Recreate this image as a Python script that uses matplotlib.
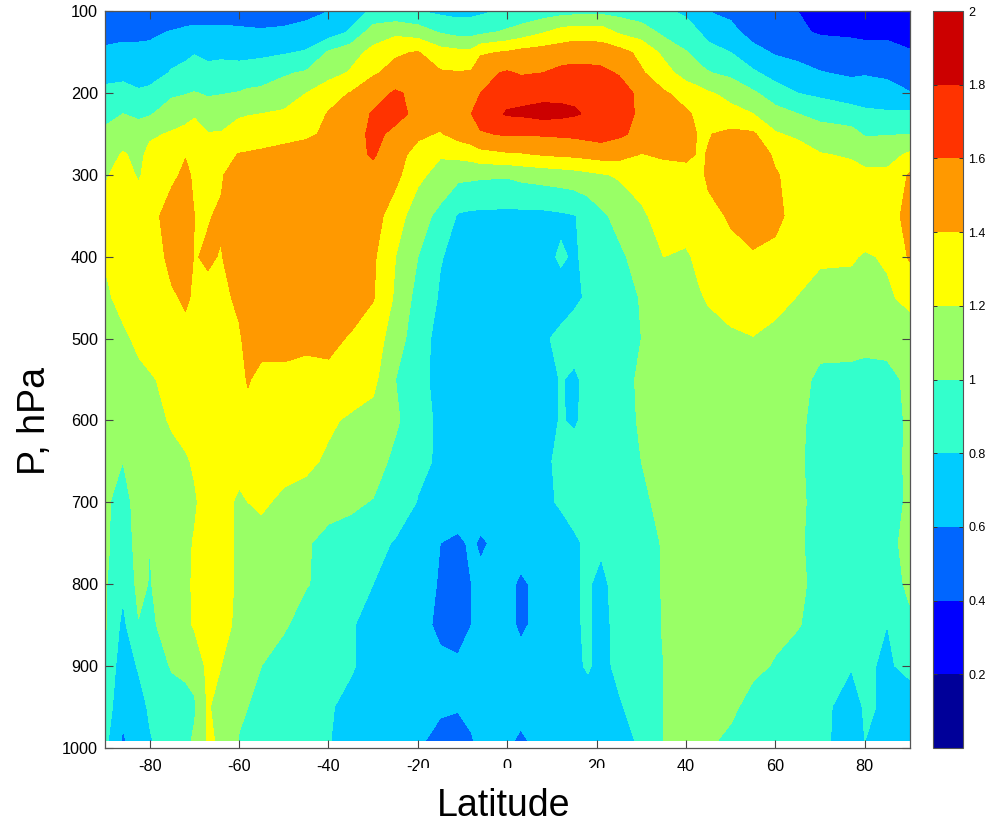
import matplotlib
matplotlib.use('Agg')
import matplotlib.pyplot as plt
from matplotlib.patches import Rectangle
import numpy as np

plt.rcParams['font.family'] = ['Liberation Sans', 'DejaVu Sans']
plt.rcParams['axes.unicode_minus'] = False

lat = [-90, -86, -82.5, -80, -75, -72, -70, -67, -64, -60, -58, -55, -50, -45, -40, -35, -30, -25, -20, -15, -11, -8, -6,
       0, 3, 8, 12, 15, 18, 21, 25, 30, 35, 40, 43, 45, 50, 55, 60, 65, 70, 77, 80, 85, 90]
plev = [100, 125, 150, 175, 200, 225, 250, 275, 300, 350, 400, 450, 500, 550, 600, 650, 700, 750, 800, 850, 900, 950, 992]

p100 = [.45, .47, .47, .48, .48, .48, .48, .48, .48, .49, .49, .5, .52, .55, .6, .72, .83, .85, .81, .76, .74, .75, .77,
        .83, .86, .9, .93, .94, .95, .95, .93, .88, .83, .77, .68, .6, .56, .5, .46, .4, .36, .34, .33, .33, .33]
p125 = [.5, .55, .56, .57, .61, .64, .66, .66, .66, .64, .63, .62, .63, .66, .7, .82, 1.1, 1.15, 1.1, .98, .93, .93, .95,
        1.03, 1.08, 1.18, 1.27, 1.3, 1.3, 1.3, 1.17, 1.1, .95, .88, .8, .72, .65, .53, .48, .43, .38, .37, .35, .35, .3]
p150 = [.65, .65, .64, .64, .72, .76, .79, .75, .76, .74, .74, .75, .78, .82, 1.02, 1.13, 1.25, 1.38, 1.41, 1.28, 1.25, 1.25, 1.37,
        1.42, 1.46, 1.49, 1.5, 1.52, 1.51, 1.5, 1.47, 1.35, 1.15, 1.01, .93, .88, .8, .66, .58, .55, .5, .47, .47, .47, .42]
p175 = [.72, .72, .7, .7, .82, .85, .87, .86, .87, .88, .9, .92, .98, 1.02, 1.12, 1.22, 1.38, 1.45, 1.47, 1.42, 1.41, 1.42, 1.55,
        1.62, 1.58, 1.6, 1.65, 1.66, 1.66, 1.65, 1.58, 1.42, 1.29, 1.1, 1.05, 1.01, .95, .83, .72, .66, .61, .57, .58, .55, .5]
p200 = [.86, .9, .83, .86, .97, .99, 1.01, .98, .99, 1.01, 1.03, 1.04, 1.08, 1.2, 1.33, 1.41, 1.5, 1.63, 1.54, 1.5, 1.52, 1.55, 1.6,
        1.72, 1.74, 1.74, 1.75, 1.76, 1.76, 1.75, 1.72, 1.53, 1.42, 1.34, 1.27, 1.22, 1.15, 1.03, .9, .8, .76, .7, .72, .7, .61]
p225 = [.97, 1.0, .95, .98, 1.1, 1.14, 1.18, 1.1, 1.13, 1.18, 1.19, 1.2, 1.23, 1.3, 1.41, 1.48, 1.62, 1.66, 1.55, 1.5, 1.51, 1.6, 1.68,
        1.82, 1.83, 1.87, 1.85, 1.82, 1.78, 1.76, 1.71, 1.55, 1.5, 1.42, 1.37, 1.34, 1.25, 1.2, 1.07, 1.0, .93, .88, .83, .82, .83]
p250 = [1.02, 1.1, 1.12, 1.17, 1.22, 1.25, 1.27, 1.21, 1.21, 1.27, 1.28, 1.29, 1.32, 1.36, 1.44, 1.5, 1.65, 1.55, 1.44, 1.38, 1.47, 1.52, 1.58,
        1.62, 1.61, 1.62, 1.63, 1.64, 1.66, 1.68, 1.63, 1.55, 1.52, 1.48, 1.38, 1.39, 1.45, 1.43, 1.22, 1.16, 1.1, 1.07, .98, .99, 1.0]
p275 = [1.1, 1.22, 1.15, 1.25, 1.3, 1.39, 1.37, 1.33, 1.32, 1.41, 1.42, 1.44, 1.48, 1.51, 1.52, 1.54, 1.62, 1.48, 1.32, 1.22, 1.25, 1.28, 1.33,
        1.37, 1.38, 1.41, 1.43, 1.44, 1.46, 1.48, 1.47, 1.39, 1.43, 1.44, 1.38, 1.41, 1.53, 1.55, 1.36, 1.3, 1.21, 1.18, 1.15, 1.13, 1.23]
p300 = [1.18, 1.27, 1.18, 1.27, 1.36, 1.44, 1.37, 1.36, 1.38, 1.52, 1.54, 1.56, 1.58, 1.58, 1.58, 1.56, 1.54, 1.45, 1.25, 1.12, 1.05, 1.04, 1.03,
        1.02, 1.05, 1.08, 1.1, 1.12, 1.15, 1.18, 1.22, 1.27, 1.3, 1.33, 1.33, 1.45, 1.52, 1.55, 1.42, 1.31, 1.28, 1.26, 1.23, 1.24, 1.42]
p350 = [1.25, 1.3, 1.3, 1.32, 1.5, 1.53, 1.4, 1.39, 1.42, 1.56, 1.57, 1.58, 1.6, 1.58, 1.56, 1.54, 1.48, 1.3, 1.08, .95, .78, .76, .76,
        .75, .75, .75, .77, .79, .86, .96, 1.06, 1.17, 1.27, 1.3, 1.31, 1.32, 1.43, 1.53, 1.45, 1.32, 1.33, 1.33, 1.33, 1.33, 1.45]
p400 = [1.22, 1.28, 1.3, 1.3, 1.45, 1.48, 1.39, 1.42, 1.39, 1.52, 1.55, 1.57, 1.6, 1.58, 1.55, 1.5, 1.43, 1.2, 1.0, .81, .75, .74, .74,
        .74, .73, .75, .82, .78, .84, .9, .96, 1.08, 1.2, 1.17, 1.25, 1.3, 1.33, 1.37, 1.35, 1.32, 1.22, 1.22, 1.18, 1.22, 1.42]
p450 = [1.15, 1.28, 1.3, 1.31, 1.38, 1.42, 1.38, 1.36, 1.36, 1.43, 1.5, 1.55, 1.6, 1.58, 1.55, 1.5, 1.41, 1.17, .93, .78, .72, .71, .71,
        .7, .71, .72, .74, .77, .82, .86, .93, 1.01, 1.08, 1.15, 1.18, 1.22, 1.32, 1.35, 1.28, 1.19, 1.15, 1.13, 1.15, 1.17, 1.25]
p500 = [1.1, 1.15, 1.25, 1.28, 1.34, 1.36, 1.36, 1.36, 1.37, 1.38, 1.45, 1.45, 1.44, 1.42, 1.45, 1.38, 1.3, 1.1, .88, .74, .69, .68, .68,
        .68, .7, .78, .83, .87, .9, .93, .97, 1.0, 1.04, 1.08, 1.1, 1.12, 1.15, 1.19, 1.13, 1.08, 1.06, 1.05, 1.05, 1.08, 1.1]
p550 = [1.05, 1.1, 1.14, 1.18, 1.25, 1.28, 1.3, 1.33, 1.35, 1.36, 1.41, 1.36, 1.37, 1.37, 1.35, 1.32, 1.25, 1.0, .83, .77, .68, .68, .68,
        .68, .69, .72, .81, .77, .85, .87, .93, 1.03, 1.07, 1.1, 1.11, 1.12, 1.13, 1.15, 1.13, 1.06, .96, .96, .94, .93, 1.05]
p600 = [1.05, 1.08, 1.08, 1.13, 1.22, 1.26, 1.3, 1.34, 1.36, 1.36, 1.36, 1.36, 1.35, 1.34, 1.23, 1.17, 1.13, 1.03, .88, .76, .7, .7, .7,
        .7, .71, .74, .81, .78, .84, .87, .93, 1.02, 1.06, 1.08, 1.09, 1.1, 1.1, 1.1, 1.1, 1.03, .95, .93, .93, .92, 1.03]
p650 = [1.05, 1.0, 1.05, 1.07, 1.15, 1.18, 1.22, 1.28, 1.28, 1.26, 1.27, 1.28, 1.27, 1.24, 1.17, 1.12, 1.09, .95, .85, .77, .7, .7, .7,
        .7, .72, .77, .83, .87, .89, .9, .94, 1.0, 1.05, 1.07, 1.07, 1.08, 1.08, 1.07, 1.06, 1.02, .95, .93, .93, .93, 1.03]
p700 = [1.02, .95, 1.05, 1.02, 1.08, 1.13, 1.18, 1.27, 1.26, 1.17, 1.2, 1.23, 1.16, 1.13, 1.07, 1.03, .99, .93, .79, .76, .72, .72, .72,
        .72, .73, .76, .82, .85, .87, .89, .93, .97, 1.04, 1.05, 1.05, 1.06, 1.07, 1.07, 1.07, 1.03, .95, .92, .93, .92, 1.03]
p750 = [1.03, .92, 1.05, 1.0, 1.12, 1.17, 1.21, 1.3, 1.27, 1.17, 1.15, 1.13, 1.1, 1.02, .94, .93, .87, .78, .68, .6, .56, .63, .57,
        .68, .68, .69, .72, .78, .82, .83, .88, .95, 1.01, 1.05, 1.06, 1.07, 1.08, 1.08, 1.07, 1.02, .95, .92, .95, .95, 1.05]
p800 = [1.02, .84, 1.05, .99, 1.1, 1.17, 1.22, 1.33, 1.27, 1.17, 1.15, 1.13, 1.08, 1.01, .95, .87, .8, .72, .65, .59, .55, .6, .65,
        .65, .57, .66, .7, .78, .82, .75, .88, .93, 1.01, 1.07, 1.07, 1.08, 1.08, 1.08, 1.06, 1.02, .97, .93, .9, .95, 1.02]
p850 = [1.02, .75, .99, .97, 1.07, 1.15, 1.22, 1.3, 1.27, 1.15, 1.13, 1.1, 1.02, .93, .88, .82, .72, .67, .65, .57, .55, .6, .67,
        .65, .57, .66, .7, .78, .82, .74, .86, .92, 1.01, 1.07, 1.07, 1.08, 1.08, 1.07, 1.03, 1.01, .94, .9, .87, .8, .98]
p900 = [.98, .68, .82, .87, 1.02, 1.04, 1.08, 1.24, 1.2, 1.07, 1.04, 1.0, .93, .88, .84, .83, .7, .68, .65, .63, .62, .63, .66,
        .66, .66, .67, .7, .76, .82, .75, .84, .9, 1.0, 1.06, 1.06, 1.07, 1.06, 1.03, .99, .93, .88, .81, .81, .79, .82]
p950 = [.9, .66, .72, .83, .9, .94, .97, 1.22, 1.12, 1.03, 1.0, .95, .92, .88, .83, .72, .68, .67, .65, .62, .61, .63, .65,
        .66, .66, .67, .68, .7, .72, .74, .78, .88, 1.0, 1.05, 1.05, 1.05, 1.03, .95, .92, .88, .85, .72, .82, .78, .76]
p992 = [.85, .57, .72, .78, .93, .95, 1.03, 1.22, 1.18, .99, .96, .93, .9, .86, .81, .72, .68, .66, .62, .56, .55, .59, .63,
        .63, .57, .66, .67, .68, .69, .72, .75, .82, 1.0, 1.04, 1.03, 1.02, .97, .93, .9, .87, .82, .76, .8, .76, .74]

field = np.array([p100, p125, p150, p175, p200, p225, p250, p275, p300, p350, p400, p450,
                  p500, p550, p600, p650, p700, p750, p800, p850, p900, p950, p992])

levels = np.arange(0, 2.01, 0.2)
colors = ['#000099', '#0000ff', '#0066ff', '#00ccff', '#33ffcc',
          '#99ff66', '#ffff00', '#ff9900', '#ff3300', '#cc0000']
cbar_ticks = [0.2, 0.4, 0.6, 0.8, 1, 1.2, 1.4, 1.6, 1.8, 2]
cbar_labels = ['0.2', '0.4', '0.6', '0.8', '1', '1.2', '1.4', '1.6', '1.8', '2']

W, H = 997, 824
fig = plt.figure(figsize=(W / 100, H / 100), dpi=100)
ax = fig.add_axes([105 / W, 1 - 747.5 / H, 804.5 / W, 736 / H])
cax = fig.add_axes([933 / W, 1 - 748 / H, 30 / W, 737 / H])

cf = ax.contourf(lat, plev, field, levels=levels, colors=colors)
ax.set_xlim(-90, 90)
ax.set_ylim(1000, 100)
ax.set_xticks(range(-80, 81, 20))
ax.set_yticks(range(100, 1001, 100))
ax.tick_params(direction='in', top=True, right=True, length=6, width=0.8,
               color='#444444', labelsize=11.7, pad=8)
ax.tick_params(axis='y', pad=5)
for s in ax.spines.values():
    s.set_color('#555555')
    s.set_linewidth(0.9)

cb = fig.colorbar(cf, cax=cax)
cb.set_ticks(cbar_ticks)
cb.set_ticklabels(cbar_labels)
cax.tick_params(direction='in', length=3, width=0.7, labelsize=9, pad=4, left=True, color='#333333')
cb.outline.set_edgecolor('#555555')
cb.outline.set_linewidth(0.8)

# white box of the x label hides part of the tick labels
fig.add_artist(Rectangle((417 / W, 0), 266 / W, 1 - 768 / H, transform=fig.transFigure,
                         facecolor='white', edgecolor='none', zorder=1))
fig.text(504 / W, 1 - 806 / H, 'Latitude', fontsize=27, ha='center', va='center', zorder=2)
fig.text(35 / W, 1 - 421 / H, 'P, hPa', fontsize=27, rotation=90, ha='center', va='center', zorder=2)

plt.savefig('out.png', dpi=100)
